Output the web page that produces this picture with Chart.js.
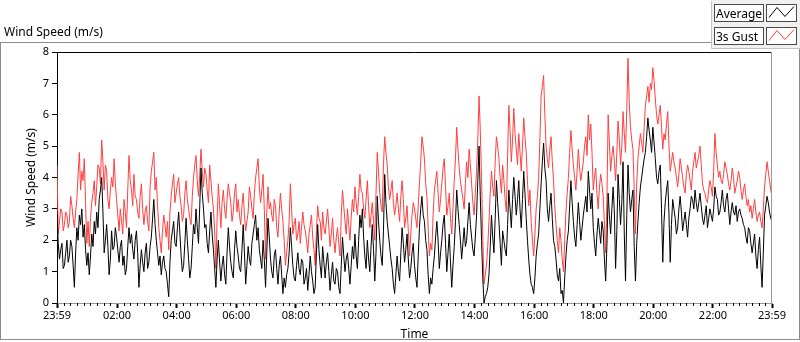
<!DOCTYPE html>
<html>
<head>
<meta charset="utf-8">
<script src="https://cdn.jsdelivr.net/npm/chart.js@4"></script>
<style>
  html, body { margin: 0; padding: 0; background: #fff; }
  #wrap { width: 800px; height: 342px; }
</style>
</head>
<body>
<div id="wrap"><canvas id="windChart" width="800" height="342"></canvas></div>
<script>
// samples every 2.5 minutes, starting 23:59 (one row = one hour)
const STEP_MIN = 2.5;

const gust = [
  4.4,2.2,2.6,3.0,2.9,2.3,2.5,2.9,2.8,2.4,2.6,3.4,3.1,2.7,2.4,2.9,3.3,4.1,4.8,3.6,4.2,3.9,4.6,3.2,
  1.9,2.6,1.8,2.7,3.2,3.5,3.9,3.1,3.7,4.4,4.3,3.8,5.2,4.5,3.6,4.4,4.2,3.3,3.0,3.6,4.0,3.7,4.6,3.8,
  3.3,2.8,2.3,3.0,2.6,2.2,3.3,2.9,2.4,3.6,4.7,3.9,3.6,3.1,4.1,3.4,3.3,2.9,2.7,3.4,3.8,3.0,2.5,2.9,
  3.1,2.6,2.3,3.7,4.2,4.5,4.8,3.6,4.0,3.1,2.4,2.0,1.6,2.3,2.8,2.5,2.1,2.6,1.7,2.9,3.4,3.8,4.1,3.2,
  3.5,3.8,4.0,3.4,3.1,2.6,2.8,3.5,3.9,3.3,3.0,2.7,2.5,3.4,4.0,4.4,4.7,3.9,3.4,4.1,4.9,4.2,3.7,4.3,
  4.1,3.6,3.2,4.4,3.9,3.4,3.0,2.3,1.1,2.7,3.8,3.1,2.4,3.2,3.6,3.0,2.7,3.3,3.8,3.5,3.2,2.6,2.9,3.5,
  3.8,2.9,3.3,2.8,2.5,3.1,3.5,2.8,2.3,2.6,2.9,3.7,3.4,3.0,2.7,3.5,4.0,4.3,4.6,3.7,3.2,3.6,4.1,3.0,
  1.4,2.9,3.7,3.0,3.2,2.8,2.6,3.3,3.1,2.4,2.1,2.9,3.5,3.0,2.6,2.0,1.2,1.6,2.0,2.6,3.8,3.0,2.2,2.5,
  2.7,2.0,2.2,2.6,1.9,2.4,2.9,2.5,2.3,2.0,1.6,2.2,2.5,2.8,2.1,1.7,1.2,2.3,3.1,2.7,2.6,2.0,2.9,2.4,
  2.2,2.6,3.0,2.4,1.8,2.2,2.7,2.0,1.6,2.1,2.4,1.9,1.5,2.8,3.6,3.1,2.6,2.2,3.0,2.5,2.0,2.7,3.3,2.9,
  3.7,3.2,2.8,3.4,4.1,3.6,3.5,3.0,2.7,3.3,3.9,3.1,2.4,2.8,3.2,2.6,2.0,3.5,4.8,4.2,3.5,3.1,2.9,4.4,
  5.3,4.8,4.4,3.7,3.3,3.6,3.9,3.2,2.8,3.1,3.5,3.0,2.6,3.4,3.9,3.3,2.4,2.7,3.1,2.3,1.5,2.2,2.8,3.2,
  3.0,2.7,2.4,3.1,3.8,4.5,5.3,5.0,4.6,3.8,3.4,2.4,1.5,1.9,1.7,2.8,3.6,3.9,4.2,3.5,2.9,3.3,3.8,4.3,
  4.6,3.7,2.8,3.1,3.5,2.7,2.2,3.0,3.9,4.6,5.6,4.9,4.3,3.9,3.6,3.3,3.0,3.8,4.5,4.0,4.9,4.4,3.8,3.2,
  2.8,3.5,4.2,5.2,6.6,5.5,4.0,2.1,0.6,0.9,1.2,1.8,2.6,3.5,4.2,3.7,3.4,4.5,5.3,5.0,4.6,4.0,3.5,4.4,
  3.9,3.3,2.9,4.7,6.3,5.5,4.5,5.2,6.2,5.4,4.9,4.4,5.4,4.8,4.2,5.0,5.9,5.3,4.8,3.9,3.1,3.6,2.6,2.0,
  1.5,2.2,3.0,3.4,4.0,5.2,6.6,6.9,7.25,6.0,5.0,4.6,4.3,4.9,5.3,4.5,3.9,3.1,2.5,2.0,1.6,2.4,2.0,1.4,
  1.0,2.0,2.9,3.5,4.0,4.8,5.5,4.9,4.4,4.0,3.6,4.2,4.9,4.3,3.9,4.2,4.5,5.0,5.3,4.7,6.0,5.2,5.7,4.8,
  3.6,4.0,4.3,3.5,3.0,3.7,4.1,3.8,3.4,2.5,1.6,3.3,6.0,5.1,4.2,4.7,5.0,4.5,3.9,4.8,5.8,5.2,4.4,5.0,
  6.1,5.4,4.8,6.2,7.8,6.4,5.6,5.2,4.9,3.6,2.2,3.8,4.6,5.0,5.4,5.1,4.8,5.6,6.3,6.6,6.9,6.4,7.0,6.8,
  7.5,7.1,6.5,6.0,5.7,6.0,6.3,5.6,4.9,5.4,5.2,5.7,6.1,5.0,4.2,4.5,4.8,4.5,4.3,4.0,3.7,4.1,4.6,4.3,
  4.0,3.7,3.5,4.1,4.4,4.2,3.9,3.6,4.2,4.5,4.8,4.3,4.5,4.7,5.0,4.4,3.8,3.6,3.5,3.3,3.2,3.6,3.9,3.7,
  3.4,4.2,5.4,4.8,4.4,4.0,4.2,3.9,3.8,4.1,4.5,4.3,4.1,3.8,3.6,3.9,4.3,4.0,3.5,3.7,3.9,4.2,4.0,3.6,
  3.3,3.6,3.8,3.4,3.1,3.3,2.9,3.1,2.7,3.0,3.3,2.9,2.6,2.8,2.9,2.6,2.4,3.0,3.7,4.1,4.5,4.2,3.9,3.6,3.4
];

const average = [
  2.9,1.9,1.4,1.7,1.9,1.1,1.2,1.6,2.0,1.3,1.5,2.0,1.8,1.2,0.5,1.6,2.4,2.0,2.8,2.5,3.0,2.1,2.5,1.7,
  1.2,1.6,0.9,1.5,2.2,1.8,2.6,2.2,2.9,2.4,3.3,3.6,4.0,2.9,1.6,2.0,2.5,1.8,0.9,1.4,2.3,1.7,1.8,2.4,
  2.1,1.7,1.3,1.8,2.0,1.2,1.5,0.9,1.1,1.8,2.4,1.9,2.2,1.7,1.4,2.0,2.3,1.6,0.5,1.2,1.7,1.3,1.0,1.6,
  1.9,1.1,1.3,1.8,2.1,2.7,3.3,2.5,2.0,1.6,1.2,1.5,0.9,1.3,1.5,1.1,1.0,0.6,0.2,1.3,2.0,2.3,2.6,1.9,
  1.8,2.4,2.9,2.2,1.5,1.0,1.2,1.9,2.7,2.0,1.4,0.8,1.1,1.8,2.5,2.2,3.0,2.4,1.9,3.1,4.3,3.5,3.0,2.4,
  2.5,1.9,1.6,2.3,2.9,2.2,1.7,1.1,0.5,1.4,2.0,1.3,0.7,1.2,1.5,0.9,0.6,1.6,2.4,1.8,1.3,1.0,0.8,1.7,
  2.3,1.8,1.5,1.1,1.0,1.7,2.5,1.6,0.6,1.2,1.8,1.4,1.2,1.9,2.2,2.5,2.8,2.0,2.4,1.7,1.4,1.1,2.0,1.4,
  0.5,1.6,2.7,2.1,1.4,1.0,0.8,1.5,1.7,1.1,0.6,1.2,1.5,0.9,0.3,0.8,0.5,0.9,1.1,1.6,2.4,1.8,1.2,0.8,
  0.7,1.2,1.6,1.1,0.9,1.4,1.3,0.6,0.8,1.1,0.4,0.9,1.5,1.0,0.7,0.3,0.5,1.6,2.5,1.7,1.2,0.8,1.8,1.3,
  0.8,1.3,1.6,1.0,0.4,0.9,1.3,0.7,0.6,1.1,1.0,0.5,0.3,1.2,2.1,1.5,1.0,1.4,1.6,1.1,0.6,1.2,1.8,1.4,
  2.2,1.5,1.1,2.0,2.8,2.4,3.0,2.1,1.5,1.1,2.0,1.4,1.0,1.8,2.5,1.7,0.7,1.6,3.4,2.6,2.0,1.5,1.2,2.3,
  4.1,3.2,2.6,2.2,1.8,1.4,1.1,0.6,0.3,0.9,1.5,1.0,0.7,1.6,2.4,1.9,1.3,1.7,2.2,1.4,0.8,1.1,1.6,1.9,
  1.2,0.8,0.5,1.5,2.4,3.0,3.4,2.8,2.6,2.0,1.7,0.9,0.3,0.8,0.6,1.1,1.5,2.1,2.6,2.0,1.1,1.6,2.0,2.5,
  2.8,1.9,1.0,1.6,2.2,1.3,0.5,1.2,1.8,2.6,3.6,3.0,2.5,2.0,1.4,1.9,2.4,1.8,2.0,2.6,3.2,2.5,2.1,1.7,
  1.5,2.1,2.8,3.9,5.0,3.4,2.0,0.8,0.0,0.2,0.3,0.5,0.9,1.8,2.8,2.1,1.6,2.7,3.9,3.2,2.6,1.9,1.2,2.3,
  2.0,1.7,1.5,2.5,3.6,3.0,2.4,3.3,4.0,3.4,2.8,3.3,3.9,3.0,2.4,3.3,4.2,3.5,2.7,2.0,1.4,0.9,0.6,0.5,
  0.3,0.8,1.5,1.9,2.2,3.0,3.8,4.5,5.1,4.3,3.9,3.0,2.6,3.1,3.5,2.7,2.0,1.8,1.4,0.9,0.7,1.1,0.3,0.4,
  0.0,0.8,1.5,2.0,2.3,3.1,3.9,3.2,2.6,2.1,1.8,2.5,3.2,2.6,2.0,2.4,2.8,3.1,3.4,2.9,4.2,3.6,3.0,3.5,
  2.4,1.9,1.5,2.2,2.7,2.3,1.9,2.6,2.3,1.4,0.7,1.8,3.5,2.8,2.2,3.0,3.7,2.9,1.1,2.3,4.1,3.3,2.5,3.2,
  4.5,2.2,0.7,2.8,4.4,3.5,2.9,3.3,3.6,1.8,0.7,1.9,2.6,3.2,3.7,4.0,4.3,4.6,4.8,5.3,5.9,5.5,5.2,4.8,
  5.6,5.1,4.6,4.0,3.8,4.2,4.4,3.0,1.3,2.6,3.2,3.6,3.9,2.8,1.3,2.5,3.3,3.0,2.7,2.2,2.4,3.0,3.4,2.9,
  2.3,2.6,2.9,2.5,2.1,2.7,3.0,3.4,3.3,3.0,3.6,3.2,2.9,3.2,3.5,3.1,2.7,2.5,2.8,3.1,2.4,2.7,3.0,2.8,
  2.6,3.0,3.7,3.4,3.3,2.8,2.9,3.2,3.6,3.1,2.9,3.3,3.5,3.0,2.5,2.9,3.2,2.9,2.8,3.1,2.6,2.9,3.0,2.8,
  2.7,2.5,2.4,2.1,1.9,2.4,2.3,1.9,1.6,1.9,2.2,1.5,1.1,1.7,2.1,1.2,0.5,1.6,2.8,3.1,3.4,3.2,2.9,2.7,2.6
];

// x axis: minutes after 23:59
const tickMinutes = [0, 121, 241, 361, 481, 601, 721, 841, 961, 1081, 1201, 1321, 1440];
const tickLabels = ['23:59','02:00','04:00','06:00','08:00','10:00','12:00','14:00','16:00','18:00','20:00','22:00','23:59'];
const MINOR_PER_MAJOR = 9;

const FONT = '"Noto Sans", "Open Sans", sans-serif';
Chart.defaults.font.family = FONT;
Chart.defaults.color = '#000';

function toPoints(values) {
  return values.map((v, i) => ({ x: i * STEP_MIN, y: v }));
}

// frame, title and legend panel, LabVIEW style
const framePlugin = {
  id: 'frame',
  beforeDraw(chart) {
    const ctx = chart.ctx;
    ctx.save();
    ctx.fillStyle = '#fff';
    ctx.fillRect(0, 0, chart.width, chart.height);

    ctx.strokeStyle = '#8c8c8c';
    ctx.lineWidth = 1;
    ctx.strokeRect(0.5, 42.5, 799, 297);

    ctx.font = '12px ' + FONT;
    ctx.fillStyle = '#000';
    ctx.textBaseline = 'alphabetic';
    ctx.fillText('Wind Speed (m/s)', 4, 36);

    // legend panel
    ctx.fillStyle = '#f0f0f0';
    ctx.fillRect(711, 0, 89, 48);
    ctx.strokeStyle = '#c4c4c4';
    ctx.beginPath();
    ctx.moveTo(711.5, 1); ctx.lineTo(711.5, 48.5); ctx.lineTo(800, 48.5);
    ctx.stroke();

    chart.data.datasets.forEach((ds, i) => {
      const top = 4.5 + i * 23;
      ctx.fillStyle = '#fff';
      ctx.fillRect(714.5, top, 49, 17);
      ctx.fillRect(766.5, top, 30, 17);
      ctx.strokeStyle = '#4a4a4a';
      ctx.strokeRect(714.5, top, 49, 17);
      ctx.strokeRect(766.5, top, 30, 17);
      ctx.fillStyle = '#000';
      ctx.font = '12px ' + FONT;
      ctx.fillText(ds.label, 716, top + 13);
      ctx.strokeStyle = ds.borderColor;
      ctx.beginPath();
      ctx.moveTo(769, top + 13);
      ctx.lineTo(777, top + 3);
      ctx.lineTo(785, top + 12);
      ctx.lineTo(794, top + 2);
      ctx.stroke();
    });
    ctx.restore();
  },
  afterDraw(chart) {
    const ctx = chart.ctx;
    const a = chart.chartArea;
    ctx.save();
    ctx.lineWidth = 1;
    // top edge black, right edge grey
    ctx.strokeStyle = '#000';
    ctx.beginPath();
    ctx.moveTo(a.left, a.top + 0.5); ctx.lineTo(a.right, a.top + 0.5);
    ctx.stroke();
    ctx.strokeStyle = '#999';
    ctx.beginPath();
    ctx.moveTo(a.right - 0.5, a.top); ctx.lineTo(a.right - 0.5, a.bottom);
    ctx.stroke();

    // minor ticks on the time axis
    const xs = chart.scales.x;
    ctx.strokeStyle = '#000';
    ctx.beginPath();
    for (let i = 0; i < tickMinutes.length - 1; i++) {
      const m0 = tickMinutes[i], m1 = tickMinutes[i + 1];
      for (let k = 1; k < MINOR_PER_MAJOR; k++) {
        const px = Math.round(xs.getPixelForValue(m0 + (m1 - m0) * k / MINOR_PER_MAJOR)) + 0.5;
        ctx.moveTo(px, a.bottom);
        ctx.lineTo(px, a.bottom + 3);
      }
    }
    ctx.stroke();
    ctx.restore();
  }
};

const ctx = document.getElementById('windChart').getContext('2d');
const windChart = new Chart(ctx, {
  type: 'line',
  data: {
    datasets: [{
      label: 'Average',
      data: toPoints(average),
      borderColor: '#000000',
      borderWidth: 1,
      pointRadius: 0,
      tension: 0
    }, {
      label: '3s Gust',
      data: toPoints(gust),
      borderColor: '#ff4040',
      borderWidth: 1,
      pointRadius: 0,
      tension: 0
    }]
  },
  options: {
    responsive: false,
    animation: false,
    layout: { padding: { top: 52, right: 28, bottom: 0, left: 0 } },
    plugins: {
      legend: { display: false },
      title: { display: false },
      tooltip: { enabled: false }
    },
    scales: {
      x: {
        type: 'linear',
        min: 0,
        max: 1440,
        afterFit(scale) { scale.height = 39; },
        afterBuildTicks(scale) {
          scale.ticks = tickMinutes.map(v => ({ value: v }));
        },
        ticks: {
          autoSkip: false,
          maxRotation: 0,
          padding: 1,
          font: { size: 11 },
          callback: (v, i) => tickLabels[i]
        },
        grid: {
          drawOnChartArea: false,
          tickLength: 5,
          tickColor: '#000',
          tickWidth: 2
        },
        border: { color: '#999', width: 1 },
        title: {
          display: true,
          text: 'Time',
          font: { size: 12 },
          padding: { top: 0, bottom: 0 }
        }
      },
      y: {
        min: 0,
        max: 8,
        afterFit(scale) { scale.width = 57; },
        ticks: {
          stepSize: 1,
          padding: 3,
          font: { size: 11 }
        },
        grid: {
          drawOnChartArea: false,
          tickLength: 5,
          tickColor: '#000'
        },
        border: { color: '#000', width: 1 },
        title: {
          display: true,
          text: 'Wind Speed (m/s)',
          font: { size: 12 },
          padding: { top: 24, bottom: 0 }
        }
      }
    }
  },
  plugins: [framePlugin]
});
</script>
</body>
</html>
